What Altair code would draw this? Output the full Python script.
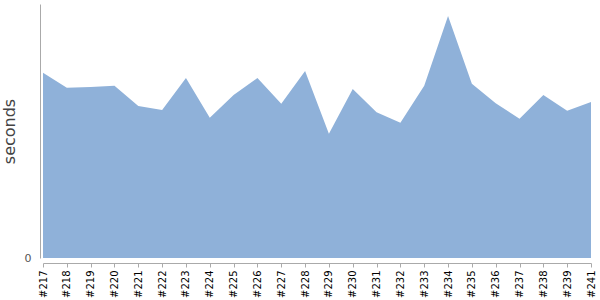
import altair as alt
import pandas as pd

builds = ["#217", "#218", "#219", "#220", "#221", "#222", "#223", "#224",
          "#225", "#226", "#227", "#228", "#229", "#230", "#231", "#232",
          "#233", "#234", "#235", "#236", "#237", "#238", "#239", "#241"]
seconds = [185.3, 170.3, 171.0, 172.3, 152.0, 148.0, 180.0, 140.3,
           163.0, 180.0, 154.3, 187.0, 124.3, 169.0, 145.7, 135.3,
           172.3, 242.0, 174.3, 154.7, 139.3, 163.0, 147.3, 156.0]

df = pd.DataFrame({"build": builds, "seconds": seconds})

chart = alt.Chart(df).mark_area(color="#8FB1D9", opacity=1).encode(
    x=alt.X("build:N", sort=builds, title=None,
            scale=alt.Scale(type="point", padding=0),
            axis=alt.Axis(labelAngle=-90, labelFontSize=10, labelColor="#000",
                          labelFont="DejaVu Sans", domainColor="#aaaaaa",
                          tickColor="#aaaaaa", tickSize=4, offset=5,
                          labelPadding=3, grid=False)),
    y=alt.Y("seconds:Q", title="seconds",
            scale=alt.Scale(domain=[0, 254], nice=False, zero=True),
            axis=alt.Axis(values=[0], tickSize=0, offset=3, labelPadding=9,
                          labelFontSize=11, labelColor="#555", labelFont="DejaVu Sans",
                          domainColor="#aaaaaa", grid=False,
                          titleFontSize=16, titleFont="DejaVu Sans",
                          titleFontWeight="normal", titleColor="#444",
                          titlePadding=7)),
).properties(
    width=548, height=254,
    autosize=alt.AutoSizeParams(type="none"),
    padding={"left": 43, "top": 4, "right": 9, "bottom": 42},
).configure_view(stroke=None)

chart.save("out.html", embed_options={"renderer": "svg", "actions": False})
